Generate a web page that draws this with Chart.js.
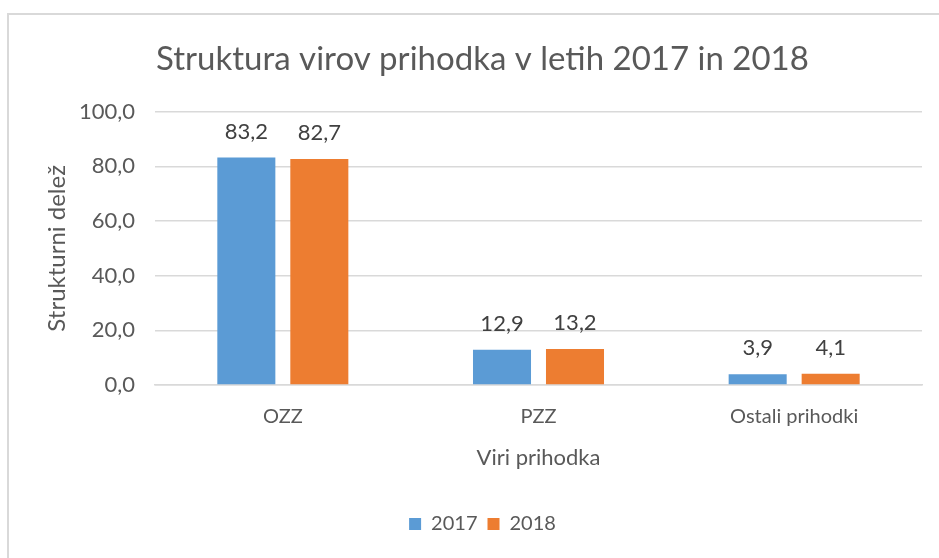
<!DOCTYPE html>
<html>
<head>
<meta charset="utf-8">
<script src="https://cdn.jsdelivr.net/npm/chart.js@4/dist/chart.umd.min.js"></script>
<style>
  html, body { margin: 0; padding: 0; background: #ffffff; }
  #wrap { position: relative; width: 939px; height: 558px; overflow: hidden; }
  #frame { position: absolute; left: 7px; top: 13px; width: 1000px; height: 600px;
           border-left: 2px solid #d9d9d9; border-top: 2px solid #d9d9d9; box-sizing: border-box; }
  canvas { position: absolute; left: 0; top: 0; }
</style>
</head>
<body>
<div id="wrap">
  <div id="frame"></div>
  <canvas id="c" width="939" height="558"></canvas>
</div>
<script>
const categories = ['OZZ', 'PZZ', 'Ostali prihodki'];
const values2017 = [83.2, 12.9, 3.9];
const values2018 = [82.7, 13.2, 4.1];
const seriesNames = ['2017', '2018'];
const yTicks = [0, 20, 40, 60, 80, 100];

const FONT = "Lato, 'Open Sans', sans-serif";
const fmt = v => v.toFixed(1).replace('.', ',');

const dataLabels = {
  id: 'dataLabels',
  afterDatasetsDraw(chart) {
    const ctx = chart.ctx;
    ctx.save();
    ctx.font = "22px " + FONT;
    ctx.fillStyle = '#404040';
    ctx.textAlign = 'center';
    ctx.textBaseline = 'middle';
    chart.data.datasets.forEach((ds, i) => {
      chart.getDatasetMeta(i).data.forEach((bar, j) => {
        ctx.fillText(fmt(ds.data[j]), bar.x, bar.y - 26);
      });
    });
    ctx.restore();
  }
};

new Chart(document.getElementById('c'), {
  type: 'bar',
  data: {
    labels: categories,
    datasets: [
      { label: seriesNames[0], data: values2017, backgroundColor: '#5B9BD5' },
      { label: seriesNames[1], data: values2018, backgroundColor: '#ED7D31' }
    ]
  },
  options: {
    responsive: false,
    animation: false,
    devicePixelRatio: 1,
    categoryPercentage: 0.571,
    barPercentage: 0.795,
    layout: { padding: { left: 43, right: 17, top: 0, bottom: 14 } },
    plugins: {
      title: {
        display: true,
        text: 'Struktura virov prihodka v letih 2017 in 2018',
        color: '#595959',
        font: { family: FONT, size: 33, weight: 'normal' },
        padding: { top: 40, bottom: 32 }
      },
      legend: {
        position: 'bottom',
        labels: {
          color: '#595959',
          font: { family: FONT, size: 20 },
          boxWidth: 12, boxHeight: 12, padding: 10
        }
      },
      tooltip: { enabled: false }
    },
    scales: {
      x: {
        grid: { display: false, drawTicks: false },
        border: { display: true, color: '#d9d9d9', width: 1.5 },
        ticks: { color: '#595959', font: { family: FONT, size: 20 }, padding: 20 },
        title: {
          display: true, text: 'Viri prihodka', color: '#595959',
          font: { family: FONT, size: 22 }, padding: { top: 0, bottom: 33 }
        },
        afterFit(scale) { scale.height = 119; }
      },
      y: {
        min: 0, max: 100,
        afterBuildTicks(scale) { scale.ticks = yTicks.map(v => ({ value: v })); },
        grid: { color: '#d9d9d9', lineWidth: 1.5, drawTicks: false },
        border: { display: false },
        ticks: {
          color: '#595959', font: { family: FONT, size: 22 }, padding: 20,
          callback: v => fmt(v)
        },
        title: {
          display: true, text: 'Strukturni delež', color: '#595959',
          font: { family: FONT, size: 24 }, padding: { top: 0, bottom: 0 }
        },
        afterFit(scale) { scale.width = 112; }
      }
    }
  },
  plugins: [dataLabels]
});
</script>
</body>
</html>
